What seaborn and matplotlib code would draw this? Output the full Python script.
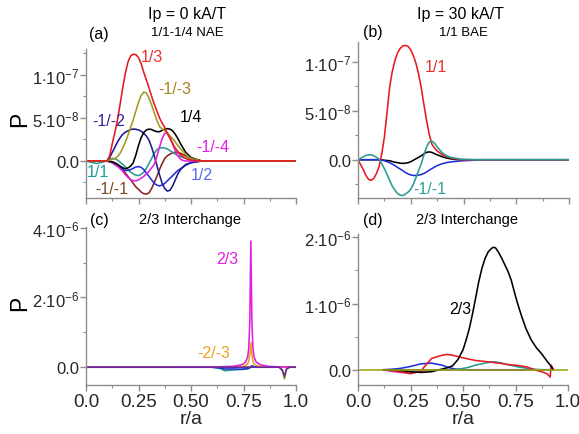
import numpy as np
import pandas as pd
import matplotlib
matplotlib.use("Agg")
import matplotlib.pyplot as plt
from matplotlib.ticker import FuncFormatter, MultipleLocator
import seaborn as sns

# ---- panel (a): Ip = 0, 1/1-1/4 NAE (units of 1e-8) ----
r_a = [0, 0.05,
       0.1, 0.1125, 0.125, 0.1375, 0.15, 0.1625, 0.175, 0.1875, 0.2, 0.2125, 0.225,
       0.2375, 0.25, 0.2625, 0.275, 0.2875, 0.3, 0.3125, 0.325, 0.3375, 0.35, 0.3625,
       0.375, 0.3875, 0.4, 0.4125, 0.425, 0.4375, 0.45, 0.4625, 0.475, 0.4875, 0.5,
       0.55, 0.6, 0.7, 0.8, 0.9, 1.0]
a_m1_m1 = [0, 0,
           0, -0.05, -0.1, -0.2, -0.4, -0.7, -1.0, -1.4, -1.8, -2.2, -2.6,
           -3.0, -3.3, -3.6, -3.8, -3.85, -3.7, -3.2, -2.5, -1.8, -1.0, -0.3,
           0.3, 0.6, 0.8, 0.95, 1.0, 1.0, 0.9, 0.75, 0.6, 0.45, 0.3,
           0, 0, 0, 0, 0, 0]
a_1_1 = [0, -0.3,
         0, 0.2, 0.3, 0.25, 0.1, -0.15, -0.4, -0.7, -1.0, -1.3, -1.5,
         -1.65, -1.7, -1.55, -1.3, -0.85, -0.3, 0.3, 0.9, 1.3, 1.5, 1.55,
         1.5, 1.4, 1.2, 1.0, 0.8, 0.65, 0.5, 0.4, 0.3, 0.2, 0.1,
         0, 0, 0, 0, 0, 0]
a_1_2 = [0, 0,
         0, -0.1, -0.2, -0.4, -0.6, -0.8, -1.0, -1.1, -1.1, -1.0, -0.85,
         -0.7, -0.65, -0.75, -1.0, -1.4, -1.8, -2.2, -2.6, -2.8, -2.9, -2.8,
         -2.6, -2.3, -2.0, -1.7, -1.4, -1.1, -0.9, -0.7, -0.5, -0.35, -0.2,
         0, 0, 0, 0, 0, 0]
a_m1_m2 = [0, 0,
           0, 0.4, 1.0, 1.6, 2.2, 2.7, 3.1, 3.35, 3.5, 3.65, 3.7,
           3.68, 3.6, 3.45, 3.2, 2.9, 2.4, 1.6, 0.6, -0.5, -1.6, -2.6,
           -3.2, -3.5, -3.4, -2.9, -2.2, -1.5, -1.0, -0.7, -0.4, -0.3, -0.2,
           0, 0, 0, 0, 0, 0]
a_m1_m4 = [0, 0,
           0, -0.1, -0.2, -0.4, -0.6, -0.9, -1.2, -1.6, -1.9, -2.15, -2.3,
           -2.3, -2.2, -2.0, -1.8, -1.5, -1.2, -0.8, -0.4, 0.5, 1.6, 2.6,
           3.2, 3.3, 2.8, 2.0, 1.2, 0.6, 0.2, 0.05, 0, 0, 0,
           0, 0, 0, 0, 0, 0]
a_1_4 = [0, 0,
         0, -0.05, -0.1, -0.25, -0.4, -0.6, -0.8, -0.9, -0.8, -0.6, -0.2,
         0.7, 1.8, 2.7, 3.3, 3.6, 3.7, 3.65, 3.5, 3.4, 3.4, 3.55,
         3.7, 3.75, 3.7, 3.5, 3.1, 2.6, 2.0, 1.5, 1.0, 0.7, 0.4,
         0, 0, 0, 0, 0, 0]
a_m1_m3 = [0, 0,
           0, 0.1, 0.2, 0.3, 0.5, 0.9, 1.5, 2.2, 3.0, 3.9, 4.8,
           5.8, 6.8, 7.6, 8.0, 7.9, 7.3, 6.5, 5.6, 4.7, 4.0, 3.7,
           3.5, 3.2, 2.9, 2.6, 2.2, 1.8, 1.4, 1.1, 0.8, 0.5, 0.3,
           0, 0, 0, 0, 0, 0]
a_1_3 = [0, 0,
         0, 0.6, 2.0, 3.3, 4.8, 6.6, 8.5, 10.2, 11.5, 12.2, 12.4,
         12.35, 12.0, 11.3, 10.3, 9.4, 8.5, 7.5, 6.6, 5.8, 5.0, 4.4,
         3.9, 3.2, 2.6, 2.0, 1.5, 1.1, 0.7, 0.5, 0.3, 0.2, 0.1,
         0, 0, 0, 0, 0, 0]

# ---- panel (b): Ip = 30, 1/1 BAE (units of 1e-8) ----
r_b = [0, 0.0125, 0.025, 0.0375, 0.05, 0.0625, 0.075, 0.0875, 0.1, 0.1125,
       0.125, 0.1375, 0.15, 0.1625, 0.175, 0.1875, 0.2, 0.2125, 0.225, 0.2375,
       0.25, 0.2625, 0.275, 0.2875, 0.3, 0.3125, 0.325, 0.3375, 0.35, 0.3625,
       0.375, 0.3875, 0.4, 0.4125, 0.425, 0.4375, 0.45, 0.4625, 0.475, 0.4875,
       0.5, 0.55, 0.6, 0.8, 1.0]
b_1_1 = [0, -0.5, -1.0, -1.6, -2.0, -2.1, -1.9, -1.4, -0.7, 0.6,
         2.3, 4.8, 7.4, 9.0, 10.1, 10.9, 11.35, 11.6, 11.65, 11.55,
         11.2, 10.6, 9.8, 8.7, 7.3, 5.6, 4.0, 2.6, 1.6, 1.2,
         0.9, 0.7, 0.5, 0.4, 0.3, 0.2, 0.1, 0.1, 0.05, 0,
         0, 0, 0, 0, 0]
b_m1_m1 = [0, 0.15, 0.3, 0.45, 0.5, 0.5, 0.4, 0.25, 0.05, -0.4,
           -0.9, -1.5, -2.1, -2.7, -3.1, -3.45, -3.6, -3.65, -3.5, -3.3,
           -3.0, -2.5, -1.8, -1.1, -0.4, 0.5, 1.3, 1.8, 1.9, 1.7,
           1.3, 1.0, 0.7, 0.5, 0.35, 0.25, 0.2, 0.15, 0.1, 0.05,
           0.05, 0, 0, 0, 0]
b_black = [0, 0, 0, 0, 0, 0, 0, 0, 0, -0.02,
           -0.05, -0.08, -0.1, -0.18, -0.25, -0.3, -0.35, -0.37, -0.35, -0.3,
           -0.2, -0.05, 0.1, 0.25, 0.4, 0.6, 0.75, 0.8, 0.75, 0.62,
           0.5, 0.4, 0.3, 0.22, 0.15, 0.1, 0.05, 0.03, 0.02, 0.01,
           0, 0, 0, 0, 0]
b_blue = [0, 0, 0, 0, 0, 0, 0, 0, 0, -0.05,
          -0.1, -0.2, -0.3, -0.45, -0.6, -0.78, -0.95, -1.12, -1.3, -1.45,
          -1.55, -1.6, -1.6, -1.57, -1.5, -1.4, -1.25, -1.07, -0.9, -0.75,
          -0.6, -0.5, -0.4, -0.33, -0.27, -0.23, -0.2, -0.17, -0.14, -0.12,
          -0.1, -0.05, 0, 0, 0]

# ---- panel (c): Ip = 0, 2/3 interchange (units of 1e-6) ----
r_c = [0, 0.3, 0.6, 0.64, 0.66, 0.7, 0.74, 0.75, 0.76, 0.77, 0.775, 0.78, 0.785,
       0.79, 0.795, 0.8, 0.81, 0.83, 0.87, 0.92, 0.935, 0.945, 0.955, 0.97, 1.0]
c_olive = [0, 0, 0, 0, 0, 0, 0, 0, 0, 0, 0, 0, 0,
           0, 0, 0, 0, 0, 0, 0, -0.1, -0.33, -0.05, 0, 0]
c_teal = [0, 0, 0, -0.04, -0.1, -0.08, -0.06, -0.05, -0.04, -0.03, -0.03, -0.02, 0.0,
          0.03, 0.04, 0.02, 0, 0, 0, 0, 0, 0, 0, 0, 0]
c_blue = [0, 0, 0, -0.02, -0.05, -0.05, -0.06, -0.06, -0.05, -0.04, -0.03, -0.01, 0.02,
          0.03, 0.02, 0.01, 0, 0, 0, 0, 0, 0, 0, 0, 0]
c_orange = [0, 0, 0, 0.002, 0.004, 0.008, 0.02, 0.03, 0.05, 0.1, 0.18, 0.35, 0.71,
            0.35, 0.18, 0.1, 0.05, 0.02, 0.005, 0, 0, 0, 0, 0, 0]
c_2_3 = [0, 0, 0.005, 0.012, 0.018, 0.025, 0.07, 0.1, 0.15, 0.3, 0.55, 1.3, 3.62,
         1.3, 0.55, 0.3, 0.15, 0.07, 0.025, 0.01, 0.008, 0.006, 0.005, 0.003, 0]
c_purple = [0, 0, 0, 0, 0, 0, 0, 0, 0, 0, 0, 0, 0,
            0, 0, 0, 0, 0, 0, 0, -0.08, -0.25, -0.05, 0, 0]

# ---- panel (d): Ip = 30, 2/3 interchange (units of 1e-6) ----
r_d = [0.12, 0.15, 0.2, 0.25, 0.3, 0.35, 0.4, 0.425, 0.45, 0.475,
       0.5, 0.515, 0.53, 0.545, 0.56, 0.575, 0.59, 0.605, 0.62, 0.635,
       0.645, 0.655, 0.67, 0.685, 0.7, 0.715, 0.73, 0.745, 0.76, 0.78,
       0.8, 0.825, 0.85, 0.875, 0.9, 0.915, 0.92, 0.93]
d_magenta = [0, -0.02, -0.04, -0.05, -0.03, 0] + [0] * 32
d_blue = [0, 0.005, 0.02, 0.05, 0.09, 0.1, 0.07, 0.04, 0.02, 0.005] + [0] * 28
d_teal = [0, 0, 0, 0, 0, 0, 0, 0, 0, 0.01,
          0.02, 0.03, 0.04, 0.055, 0.07, 0.08, 0.09, 0.1, 0.11, 0.115,
          0.12, 0.118, 0.11, 0.1, 0.085, 0.075, 0.065, 0.055, 0.045, 0.035,
          0.025, 0.015, 0.005, 0, 0, 0, 0, 0]
d_red = [0, -0.01, -0.03, -0.06, -0.015, 0.17, 0.22, 0.23, 0.22, 0.2,
         0.18, 0.17, 0.16, 0.15, 0.14, 0.135, 0.13, 0.125, 0.12, 0.115,
         0.11, 0.105, 0.1, 0.095, 0.085, 0.08, 0.075, 0.07, 0.065, 0.055,
         0.045, 0.02, -0.01, -0.03, -0.06, -0.11, 0.07, 0]
d_2_3 = [0, 0, -0.01, -0.03, -0.04, -0.03, 0.01, 0.03, 0.06, 0.15,
         0.3, 0.45, 0.62, 0.84, 1.08, 1.33, 1.53, 1.68, 1.78, 1.83,
         1.85, 1.84, 1.77, 1.68, 1.58, 1.48, 1.35, 1.17, 1.0, 0.8,
         0.62, 0.45, 0.33, 0.24, 0.13, 0.07, 0.05, 0]
r_base = [0, 1.0]
d_olive = [0, 0]

RED, BLACK, TEAL, BLUE = "#e8191f", "#000000", "#2a9a92", "#2030d8"


def long_frame(r, series, scale):
    rows = []
    for name, vals in series.items():
        rows.append(pd.DataFrame({"r": r, "P": np.array(vals) * scale, "mode": name}))
    return pd.concat(rows, ignore_index=True)


def sci_fmt(v, pos):
    if abs(v) < 1e-20:
        return "0.0"
    e = int(np.floor(np.log10(abs(v)) + 1e-9))
    m = v / 10 ** e
    return r"$%d{\cdot}10^{%d}$" % (round(m), e)


def style_axis(ax, ylim, major, minor, xlabels):
    ax.set_xlim(0, 1)
    ax.set_ylim(*ylim)
    ax.xaxis.set_major_locator(MultipleLocator(0.25))
    ax.xaxis.set_minor_locator(MultipleLocator(0.125))
    ax.yaxis.set_major_locator(MultipleLocator(major))
    ax.yaxis.set_minor_locator(MultipleLocator(minor))
    ax.yaxis.set_major_formatter(FuncFormatter(sci_fmt))
    if xlabels:
        ax.set_xticks([0, 0.25, 0.5, 0.75, 1.0])
        ax.set_xticklabels(["0.0", "0.25", "0.50", "0.75", "1.0"])
        ax.set_xlabel("r/a", fontsize=14, labelpad=0)
    else:
        ax.set_xticklabels([])
        ax.set_xlabel("")
    ax.set_ylabel("")
    for s in ["top", "right"]:
        ax.spines[s].set_visible(False)
    for s in ["left", "bottom"]:
        ax.spines[s].set_color("#8c8c8c")
        ax.spines[s].set_linewidth(1.0)
    ax.tick_params(axis="both", which="both", direction="out", color="#8c8c8c")
    ax.tick_params(axis="both", which="major", length=4, width=1)
    ax.tick_params(axis="both", which="minor", length=2.5, width=0.8)
    ax.tick_params(axis="x", labelsize=13.5, pad=2)
    ax.tick_params(axis="y", labelsize=12, pad=1)


sns.set_theme(style="ticks")
plt.rcParams["font.family"] = ["Liberation Sans", "DejaVu Sans"]
plt.rcParams["mathtext.fontset"] = "custom"
plt.rcParams["mathtext.rm"] = "Liberation Sans"
plt.rcParams["mathtext.it"] = "Liberation Sans:italic"

fig = plt.figure(figsize=(5.79, 4.35), dpi=100)
W, H = 579.0, 435.0


def px_axes(x0, y0, x1, y1):
    return fig.add_axes([x0 / W, 1 - y1 / H, (x1 - x0) / W, (y1 - y0) / H])


ax_a = px_axes(86, 50, 296, 199)
ax_b = px_axes(358, 43, 569, 199)
ax_c = px_axes(86, 228, 296, 386)
ax_d = px_axes(358, 235, 568, 386)

lw = 1.15

# (a)
pal_a = {"-1/-1": "#8b2020", "1/1": TEAL, "1/2": BLUE, "-1/-2": "#1a1a8c",
         "-1/-4": "#e020e0", "1/4": BLACK, "-1/-3": "#a09a1e", "1/3": RED}
df_a = long_frame(r_a, {"-1/-1": a_m1_m1, "1/1": a_1_1, "1/2": a_1_2, "-1/-2": a_m1_m2,
                        "-1/-4": a_m1_m4, "1/4": a_1_4, "-1/-3": a_m1_m3, "1/3": a_1_3}, 1e-8)
sns.lineplot(data=df_a, x="r", y="P", hue="mode", palette=pal_a, sort=False,
             estimator=None, legend=False, lw=lw, ax=ax_a)
style_axis(ax_a, (-4.3e-8, 1.3e-7), 5e-8, 2.5e-8, False)

# (b)
pal_b = {"black": BLACK, "blue": BLUE, "-1/-1": TEAL, "1/1": RED}
df_b = long_frame(r_b, {"black": b_black, "blue": b_blue, "1/1": b_1_1, "-1/-1": b_m1_m1}, 1e-8)
sns.lineplot(data=df_b, x="r", y="P", hue="mode", palette=pal_b, sort=False,
             estimator=None, legend=False, lw=lw, ax=ax_b)
style_axis(ax_b, (-3.9e-8, 1.2e-7), 5e-8, 2.5e-8, False)

# (c)
pal_c = {"olive": "#8a8a10", "teal": TEAL, "blue": BLUE, "-2/-3": "#f0a020",
         "2/3": "#e020e0", "purple": "#6a2a9a"}
df_c = long_frame(r_c, {"olive": c_olive, "teal": c_teal, "blue": c_blue, "-2/-3": c_orange,
                        "2/3": c_2_3, "purple": c_purple}, 1e-6)
sns.lineplot(data=df_c, x="r", y="P", hue="mode", palette=pal_c, sort=False,
             estimator=None, legend=False, lw=lw, ax=ax_c)
style_axis(ax_c, (-0.51e-6, 4.02e-6), 2e-6, 1e-6, True)

# (d)
pal_d = {"magenta": "#e040c0", "blue": BLUE, "teal": TEAL, "red": RED, "2/3": BLACK}
df_d = long_frame(r_d, {"magenta": d_magenta, "blue": d_blue, "teal": d_teal,
                        "red": d_red, "2/3": d_2_3}, 1e-6)
sns.lineplot(data=df_d, x="r", y="P", hue="mode", palette=pal_d, sort=False,
             estimator=None, legend=False, lw=lw, ax=ax_d)
sns.lineplot(x=r_base, y=np.array(d_olive) * 1e-6, color="#a0a010", lw=lw, ax=ax_d)
style_axis(ax_d, (-0.23e-6, 2.05e-6), 1e-6, 0.5e-6, True)


def ftext(x, y, s, size, color="black", **kw):
    fig.text(x / W, 1 - y / H, s, fontsize=size, color=color, ha="center", va="center", **kw)


# headers
ftext(187, 15, "Ip = 0 kA/T", 11.5)
ftext(187, 33, "1/1-1/4 NAE", 9.5)
ftext(99, 34, "(a)", 11.5)
ftext(460, 15, "Ip = 30 kA/T", 11.5)
ftext(463, 33, "1/1 BAE", 9.5)
ftext(373, 33, "(b)", 11.5)
ftext(99, 220, "(c)", 11.5)
ftext(190, 220, "2/3 Interchange", 10.5)
ftext(373, 220, "(d)", 11.5)
ftext(467, 220, "2/3 Interchange", 10.5)

# axis labels
ftext(20, 119, "P", 16.5, rotation=90)
ftext(20, 303, "P", 16.5, rotation=90)

# mode labels
ftext(152, 58, "1/3", 11.5, "#e8322a")
ftext(175, 90, "-1/-3", 11.5, "#a8841a")
ftext(191, 117, "1/4", 11.5, "black")
ftext(109, 122, "-1/-2", 11.5, "#3a1f9a")
ftext(213, 147, "-1/-4", 11.5, "#e020e0")
ftext(98, 173, "1/1", 11.5, "#1aa09a")
ftext(112, 190, "-1/-1", 11.5, "#7a4a1e")
ftext(202, 175, "1/2", 11.5, "#5a6ae8")
ftext(436, 68, "1/1", 11.5, "#e8322a")
ftext(430, 190, "-1/-1", 11.5, "#2aa09a")
ftext(227, 260, "2/3", 11.5, "#e020e0")
ftext(214, 353, "-2/-3", 11.5, "#f0a020")
ftext(460, 310, "2/3", 11.5, "black")

fig.savefig("out.png", dpi=100)
